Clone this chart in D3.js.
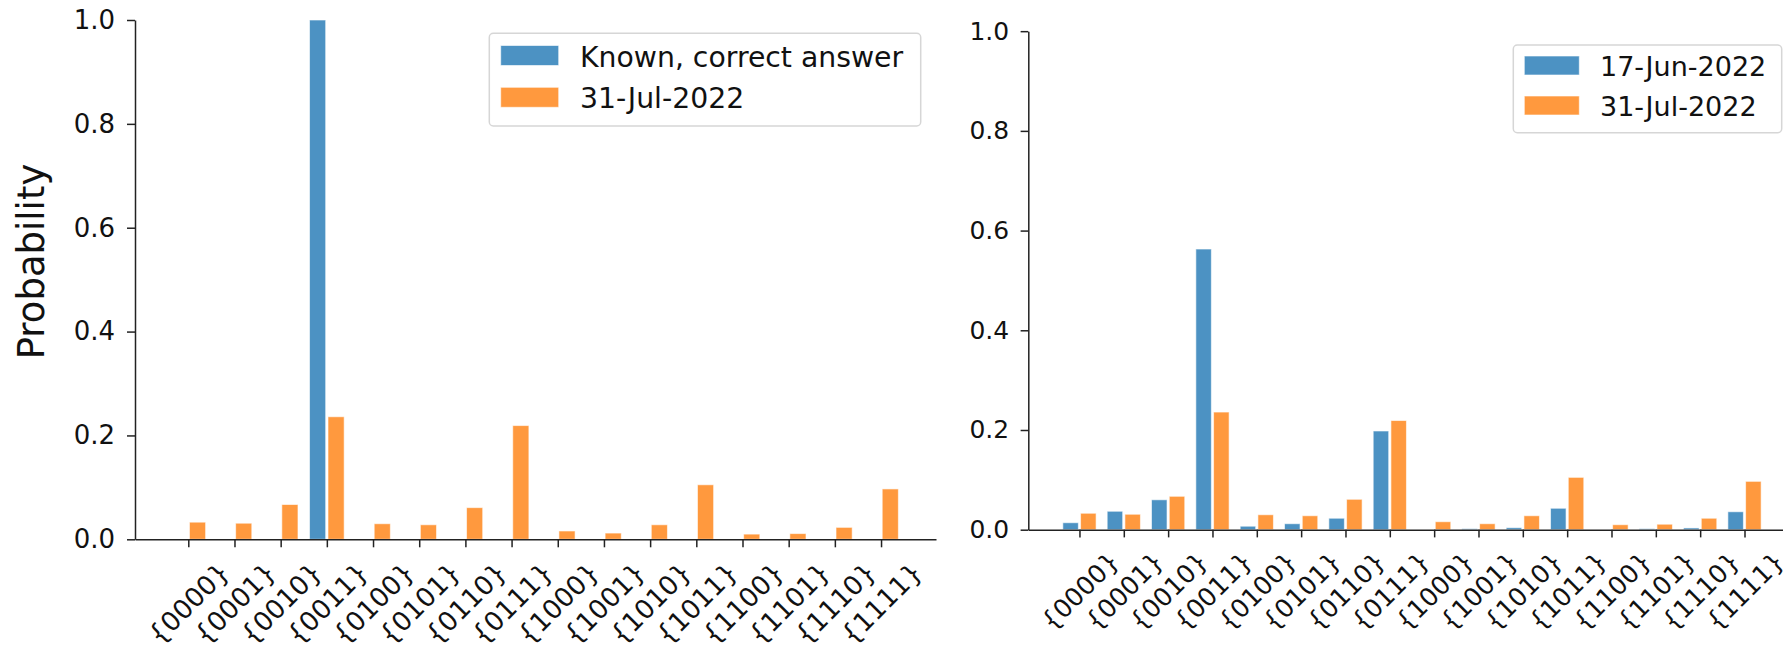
<!DOCTYPE html>
<html>
<head>
<meta charset="utf-8">
<script src="https://cdn.jsdelivr.net/npm/d3@7"></script>
<style>
  html, body { margin: 0; padding: 0; background: #fff; }
  svg { display: block; font-family: "DejaVu Sans", sans-serif; }
</style>
</head>
<body>
<svg id="chart" width="1783" height="651"></svg>
<script>
// ---- data ----
const categories = ["{0000}", "{0001}", "{0010}", "{0011}", "{0100}", "{0101}", "{0110}", "{0111}",
                    "{1000}", "{1001}", "{1010}", "{1011}", "{1100}", "{1101}", "{1110}", "{1111}"];
const knownCorrect = [0, 0, 0, 1.0, 0, 0, 0, 0, 0, 0, 0, 0, 0, 0, 0, 0];
const jul31 = [0.033, 0.031, 0.067, 0.236, 0.030, 0.028, 0.061, 0.219,
               0.016, 0.012, 0.028, 0.105, 0.010, 0.011, 0.023, 0.097];
const jun17 = [0.014, 0.037, 0.060, 0.563, 0.007, 0.012, 0.023, 0.198,
               0.000, 0.002, 0.004, 0.043, 0.000, 0.002, 0.0035, 0.036];
const yTicks = [0, 0.2, 0.4, 0.6, 0.8, 1.0];
const leftLegend = ["Known, correct answer", "31-Jul-2022"];
const rightLegend = ["17-Jun-2022", "31-Jul-2022"];
const yLabel = "Probability";

const colors = ["#4c92c3", "#ff993e"];
const svg = d3.select("#chart");

function panel(cfg) {
  const s = cfg.s;
  const g = svg.append("g");
  const x = d3.scaleLinear().domain([-1.154, 16.19]).range([cfg.x0, cfg.x0 + 801 * s]);
  const y = d3.scaleLinear().domain([0, 1]).range([cfg.yBase, cfg.yBase - 519.3 * s]);
  const bw = 0.35, off = 0.2;

  cfg.series.forEach((vals, k) => {
    const o = k === 0 ? -off : off;
    g.append("g").selectAll("rect").data(vals).join("rect")
      .attr("x", (d, i) => x(i + o - bw / 2))
      .attr("width", (d, i) => x(i + o + bw / 2) - x(i + o - bw / 2))
      .attr("y", d => y(d))
      .attr("height", d => y(0) - y(d))
      .attr("fill", colors[k])
      .attr("stroke", d => d > 0 ? "#ffffff" : "none")
      .attr("stroke-opacity", 0.6)
      .attr("stroke-width", 1);
  });

  // y axis
  const ya = g.append("g").attr("transform", `translate(${cfg.x0},0)`)
    .call(d3.axisLeft(y).tickValues(yTicks).tickFormat(d3.format(".1f"))
      .tickSize(8 * s).tickSizeOuter(0).tickPadding(12 * s));
  ya.selectAll("text").attr("font-size", 26 * s).attr("fill", "#111").attr("font-family", "DejaVu Sans");
  ya.selectAll("line, path").attr("stroke", "#222").attr("stroke-width", 1.5);

  // x axis
  const xa = g.append("g").attr("transform", `translate(0,${cfg.yBase})`)
    .call(d3.axisBottom(x).tickValues(d3.range(categories.length)).tickFormat(i => categories[i])
      .tickSize(8 * s).tickSizeOuter(0));
  xa.selectAll("line, path").attr("stroke", "#222").attr("stroke-width", 1.5);
  xa.selectAll("text")
    .attr("y", 0).attr("dy", "0.35em")
    .attr("text-anchor", "middle")
    .attr("font-size", 26.5 * s).attr("fill", "#111").attr("font-family", "DejaVu Sans")
    .attr("transform", `translate(0,${64 * s}) rotate(-45)`);

  // legend
  const L = cfg.legend;
  const lg = g.append("g");
  lg.append("rect").attr("x", L.x).attr("y", L.y).attr("width", L.w).attr("height", L.h)
    .attr("rx", 4).attr("fill", "#fff").attr("fill-opacity", 0.8)
    .attr("stroke", "#d6d6d6").attr("stroke-width", 1.5);
  cfg.legendLabels.forEach((lab, k) => {
    const ty = L.y + L.row0 + k * L.dy;
    lg.append("rect").attr("x", L.px).attr("y", ty - L.ph).attr("width", L.pw).attr("height", L.ph - 1)
      .attr("fill", colors[k]).attr("stroke", "#ffffff").attr("stroke-opacity", 0.6);
    lg.append("text").attr("x", L.tx).attr("y", ty).text(lab)
      .attr("font-size", L.fs).attr("fill", "#111");
  });
  return {x, y};
}

panel({
  s: 1, x0: 135, yBase: 539.3,
  series: [knownCorrect, jul31],
  legendLabels: leftLegend,
  legend: {x: 489.3, y: 33.3, w: 431.4, h: 92.7, row0: 33.2, dy: 41.8,
           px: 500.7, pw: 58, ph: 21, tx: 580, fs: 28.3}
});

panel({
  s: 0.96, x0: 1028.3, yBase: 529.7,
  series: [jun17, jul31],
  legendLabels: rightLegend,
  legend: {x: 1513.3, y: 45, w: 268.4, h: 87.7, row0: 31, dy: 40,
           px: 1524.3, pw: 55, ph: 20, tx: 1600, fs: 27}
});

// y label
svg.append("text")
  .attr("transform", "translate(43.5,261.5) rotate(-90)")
  .attr("text-anchor", "middle")
  .attr("font-size", 37)
  .attr("fill", "#111")
  .text(yLabel);
</script>
</body>
</html>
